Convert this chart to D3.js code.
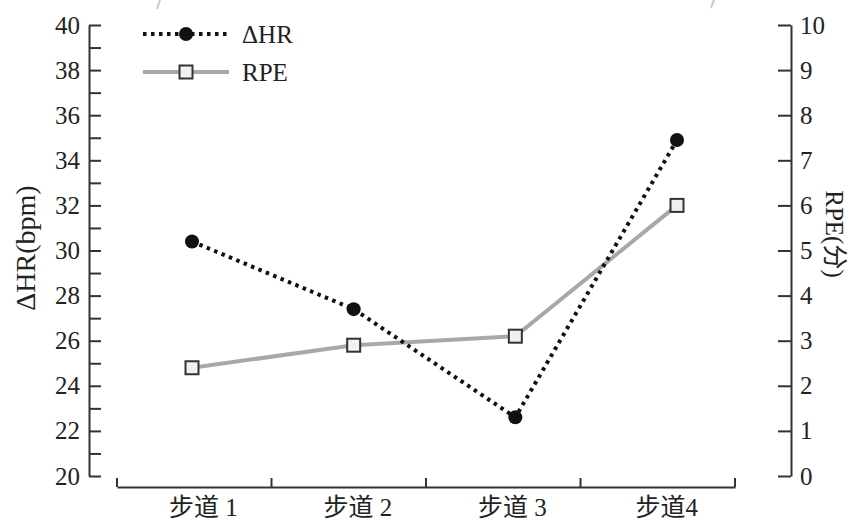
<!DOCTYPE html>
<html>
<head>
<meta charset="utf-8">
<script src="https://cdn.jsdelivr.net/npm/d3@7"></script>
<style>
  html, body { margin: 0; padding: 0; background: #fff; }
  svg text { font-family: "Liberation Serif", "Noto Sans CJK SC", serif; fill: #222; }
</style>
</head>
<body>
<svg id="chart" width="852" height="524"></svg>
<script>
// ---- data ----
const categories = ["步道 1", "步道 2", "步道 3", "步道4"];
const hrValues = [30.4, 27.4, 22.6, 34.9];
const rpeValues = [2.4, 2.9, 3.1, 6.0];
const leftTicks = d3.range(20, 41, 1);
const rightTicks = d3.range(0, 11, 1);
const seriesNames = ["ΔHR", "RPE"];
const leftTitle = "ΔHR(bpm)";
const rightTitle = "RPE(分)";

// ---- layout ----
const svg = d3.select("#chart");
const axisColor = "#333";
const yTop = 25, yBottom = 476;
const leftX = 89, rightX = 791, xAxisY = 487;
const fs = 25;

const yL = d3.scaleLinear().domain([20, 40]).range([yBottom, yTop]);
const yR = d3.scaleLinear().domain([0, 10]).range([yBottom, yTop]);
const xBand = d3.scaleBand().domain(categories).range([117, 735]);
const xPt = d3.scalePoint().domain(categories).range([192, 677]);

// scan artifacts (faint slashes at top)
svg.append("line").attr("x1", 160).attr("y1", 0).attr("x2", 157).attr("y2", 9)
  .attr("stroke", "#c8c8c8").attr("stroke-width", 2);
svg.append("line").attr("x1", 714).attr("y1", 0).attr("x2", 711).attr("y2", 8)
  .attr("stroke", "#c8c8c8").attr("stroke-width", 2);

// left axis
const gL = svg.append("g").attr("transform", `translate(${leftX},0)`)
  .call(d3.axisLeft(yL).tickValues(leftTicks).tickSizeInner(-12).tickSizeOuter(0)
    .tickPadding(9).tickFormat(d => d % 2 === 0 ? d : ""));
gL.selectAll("path, line").attr("stroke", axisColor).attr("stroke-width", 2);
gL.selectAll("text").attr("font-size", fs).attr("font-family", "Liberation Serif").attr("fill", "#222");

// right axis
const gR = svg.append("g").attr("transform", `translate(${rightX},0)`)
  .call(d3.axisRight(yR).tickValues(rightTicks).tickSizeInner(-13).tickSizeOuter(0)
    .tickPadding(9).tickFormat(d3.format("d")));
gR.selectAll("path, line").attr("stroke", axisColor).attr("stroke-width", 2);
gR.selectAll("text").attr("font-size", fs).attr("font-family", "Liberation Serif").attr("fill", "#222");

// bottom axis
const gB = svg.append("g").attr("transform", `translate(0,${xAxisY})`)
  .call(d3.axisBottom(xBand).tickSize(0).tickPadding(10));
gB.select("path").attr("stroke", axisColor).attr("stroke-width", 2);
gB.selectAll("text").attr("font-size", fs).attr("dx", 9).attr("dy", "0.76em")
  .attr("font-family", "Liberation Serif, Noto Sans CJK SC").attr("fill", "#222");
const bounds = categories.map(c => xBand(c)).concat([xBand(categories[categories.length - 1]) + xBand.bandwidth()]);
gB.selectAll("line.bound").data(bounds).join("line").attr("class", "bound")
  .attr("x1", d => d).attr("x2", d => d).attr("y1", 0).attr("y2", -9)
  .attr("stroke", axisColor).attr("stroke-width", 2);

// axis titles
svg.append("text").attr("transform", `translate(35,${248}) rotate(-90)`)
  .attr("text-anchor", "middle").attr("font-size", 28).text(leftTitle);
svg.append("text").attr("transform", `translate(826,${234}) rotate(90)`)
  .attr("text-anchor", "middle").attr("font-size", fs).text(rightTitle);

// RPE line
const rpeLine = d3.line().x((d, i) => xPt(categories[i])).y(d => yR(d));
svg.append("path").datum(rpeValues).attr("d", rpeLine)
  .attr("fill", "none").attr("stroke", "#a8a8a8").attr("stroke-width", 4);

// HR line
const hrLine = d3.line().x((d, i) => xPt(categories[i])).y(d => yL(d));
svg.append("path").datum(hrValues).attr("d", hrLine)
  .attr("fill", "none").attr("stroke", "#111").attr("stroke-width", 4)
  .attr("stroke-dasharray", "3.5,4.5");

// markers
const sq = 13;
svg.selectAll("rect.rpe").data(rpeValues).join("rect").attr("class", "rpe")
  .attr("x", (d, i) => xPt(categories[i]) - sq / 2).attr("y", d => yR(d) - sq / 2)
  .attr("width", sq).attr("height", sq)
  .attr("fill", "#f0f0f0").attr("stroke", "#333").attr("stroke-width", 2);
svg.selectAll("circle.hr").data(hrValues).join("circle").attr("class", "hr")
  .attr("cx", (d, i) => xPt(categories[i])).attr("cy", d => yL(d)).attr("r", 7)
  .attr("fill", "#111");

// legend
const lg = svg.append("g");
lg.append("line").attr("x1", 143).attr("x2", 229).attr("y1", 34).attr("y2", 34)
  .attr("stroke", "#111").attr("stroke-width", 4).attr("stroke-dasharray", "3.5,4.5");
lg.append("circle").attr("cx", 186).attr("cy", 34).attr("r", 7).attr("fill", "#111");
lg.append("text").attr("x", 242).attr("y", 34).attr("dy", "0.35em").attr("font-size", fs).text(seriesNames[0]);
lg.append("line").attr("x1", 143).attr("x2", 229).attr("y1", 72).attr("y2", 72)
  .attr("stroke", "#a8a8a8").attr("stroke-width", 4);
lg.append("rect").attr("x", 186 - sq / 2).attr("y", 72 - sq / 2).attr("width", sq).attr("height", sq)
  .attr("fill", "#f0f0f0").attr("stroke", "#333").attr("stroke-width", 2);
lg.append("text").attr("x", 242).attr("y", 72).attr("dy", "0.35em").attr("font-size", fs).text(seriesNames[1]);
</script>
</body>
</html>
